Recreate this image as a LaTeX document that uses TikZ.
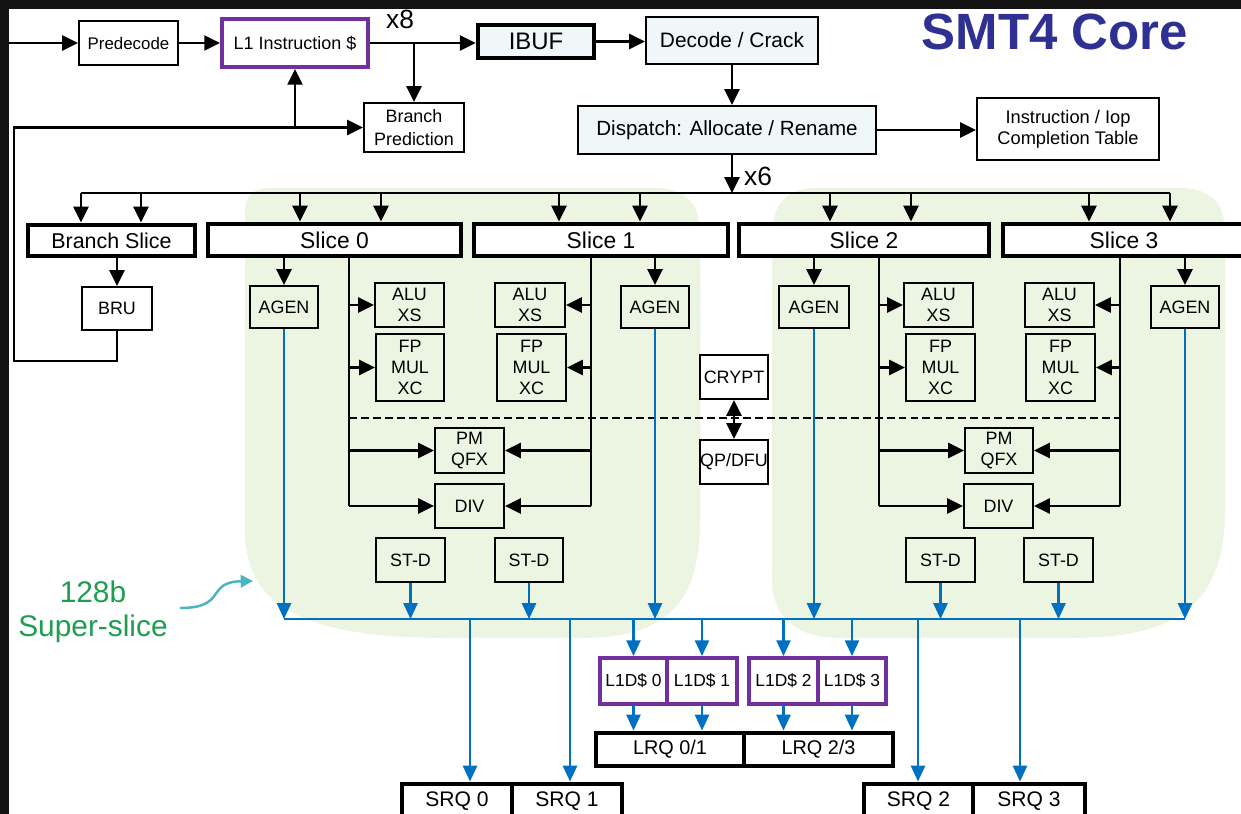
\documentclass[tikz,border=0pt]{standalone}
\usepackage{fontspec}
\setmainfont{Liberation Sans}
\usetikzlibrary{arrows.meta}
\definecolor{barc}{HTML}{121212}
\definecolor{ssgreen}{HTML}{EBF5E2}
\definecolor{lblue}{HTML}{EFF7F9}
\definecolor{purp}{HTML}{7030A0}
\definecolor{bl}{HTML}{0070C0}
\definecolor{titleblue}{HTML}{2E3192}
\definecolor{txtgreen}{HTML}{1E9E50}
\definecolor{tealarr}{HTML}{4BB5BF}
\tikzset{
  corners/.style n args={4}{minimum width={(#3-#1)*0.02cm}, minimum height={(#4-#2)*0.02cm}, at={({(#1+#3)/2},{(#2+#4)/2})}},
  bx/.style={draw=black, line width=1.1pt, inner sep=0pt, align=center, font=\fontsize{10.2}{12}\selectfont},
  tb/.style={bx, line width=2.8pt, fill=white},
  pb/.style={bx, draw=purp, line width=2.2pt, fill=white},
  ar/.style={line width=1.35pt, -{Triangle[length=9pt,width=8.5pt]}},
  ba/.style={draw=bl, line width=1.3pt, -{Triangle[length=9pt,width=8pt]}},
  ln/.style={line width=1.35pt},
  bln/.style={draw=bl, line width=1.3pt},
  dsh/.style={line width=1.4pt, dash pattern=on 4.5pt off 2.3pt},
}
\begin{document}
\begin{tikzpicture}[x=0.02cm,y=-0.02cm]
\useasboundingbox (0,0) rectangle (1241,814);
\clip (0,0) rectangle (1241,814);
\fill[white] (0,0) rectangle (1241,814);
\fill[barc] (0,0) rectangle (1241,9);
\fill[barc] (0,0) rectangle (9,814);
% super-slice backgrounds
\fill[ssgreen] (245,215) .. controls (245,195) and (252,188) .. (272,188)
  -- (655,188) .. controls (685,188) and (700,203) .. (700,233)
  -- (700,520) .. controls (700,610) and (660,638) .. (580,638)
  -- (450,638) .. controls (310,638) and (245,610) .. (245,530) -- cycle;
\fill[ssgreen] (772,235) .. controls (772,205) and (787,188) .. (815,188)
  -- (1180,188) .. controls (1210,188) and (1225,203) .. (1225,233)
  -- (1225,510) .. controls (1225,610) and (1170,638) .. (1070,638)
  -- (840,638) .. controls (795,638) and (772,615) .. (772,580) -- cycle;
% title and labels
\node[anchor=base, text=titleblue, font=\bfseries\fontsize{29}{30}\selectfont] (title) at (1055,50) {SMT4 Core};
\node[anchor=base, text=txtgreen, font=\fontsize{17}{19}\selectfont] (ssa) at (93,602) {128b};
\node[anchor=base, text=txtgreen, font=\fontsize{17}{19}\selectfont] (ssb) at (93,636) {Super-slice};
\node[anchor=base, font=\fontsize{15}{16}\selectfont] (x8) at (400,29) {x8};
\node[anchor=base, font=\fontsize{15}{16}\selectfont] (x6) at (758,186) {x6};
% front end
\node[bx, font=\fontsize{9.6}{11}\selectfont, corners={79}{21}{178}{65}] (pre) {Predecode};
\node[pb, corners={222}{19}{368}{67}] (l1) {L1 Instruction \$};
\node[bx, line width=2.5pt, fill=lblue, font=\fontsize{13.6}{15}\selectfont, corners={478}{25}{594}{58}] (ibuf) {IBUF};
\node[bx, fill=lblue, font=\fontsize{11.9}{13}\selectfont, corners={646}{17}{818}{64}] (dec) {Decode / Crack};
\node[bx, font=\fontsize{10.2}{13}\selectfont, corners={364}{103}{464}{152}] (bp) {Branch\\Prediction};
\node[bx, fill=lblue, font=\fontsize{11.7}{13}\selectfont, corners={578}{106}{876}{154}] (disp) {Dispatch: Allocate / Rename};
\node[bx, font=\fontsize{10.4}{12}\selectfont, corners={977}{98}{1159}{160}] (ict) {Instruction / Iop\\Completion Table};
% slices
\node[tb, font=\fontsize{12.2}{13}\selectfont, corners={28}{225}{195}{256}] (bs) {Branch Slice};
\node[tb, font=\fontsize{13}{14}\selectfont, corners={208}{224}{461}{256}] (s0) {Slice 0};
\node[tb, font=\fontsize{13}{14}\selectfont, corners={474}{224}{728}{256}] (s1) {Slice 1};
\node[tb, font=\fontsize{13}{14}\selectfont, corners={739}{224}{989}{256}] (s2) {Slice 2};
\node[tb, font=\fontsize{13}{14}\selectfont, corners={1003}{224}{1260}{256}] (s3) {\hspace*{-0.3cm}Slice 3};
% units
\node[bx, corners={82}{287}{152}{330}] (bru) {BRU};
\node[bx, corners={250}{286}{318}{328}] (agen0) {AGEN};
\node[bx, corners={621}{286}{689}{328}] (agen1) {AGEN};
\node[bx, corners={779}{286}{849}{328}] (agen2) {AGEN};
\node[bx, corners={1151}{286}{1219}{328}] (agen3) {AGEN};
\node[bx, corners={375}{283}{444}{327}] (alu0) {ALU\\XS};
\node[bx, corners={495}{283}{565}{327}] (alu1) {ALU\\XS};
\node[bx, corners={904}{283}{973}{327}] (alu2) {ALU\\XS};
\node[bx, corners={1025}{283}{1094}{327}] (alu3) {ALU\\XS};
\node[bx, corners={376}{334}{444}{401}] (fp0) {FP\\MUL\\XC};
\node[bx, corners={497}{334}{566}{401}] (fp1) {FP\\MUL\\XC};
\node[bx, corners={906}{334}{975}{401}] (fp2) {FP\\MUL\\XC};
\node[bx, corners={1026}{334}{1095}{401}] (fp3) {FP\\MUL\\XC};
\node[bx, fill=white, corners={700}{355}{768}{399}] (crypt) {CRYPT};
\node[bx, fill=white, corners={700}{440}{768}{484}] (qp) {QP/DFU};
\node[bx, corners={435}{428}{504}{473}] (pm0) {PM\\QFX};
\node[bx, corners={965}{428}{1033}{473}] (pm2) {PM\\QFX};
\node[bx, corners={435}{484}{504}{528}] (div0) {DIV};
\node[bx, corners={964}{484}{1033}{528}] (div2) {DIV};
\node[bx, corners={376}{538}{445}{582}] (st0) {ST-D};
\node[bx, corners={495}{538}{563}{582}] (st1) {ST-D};
\node[bx, corners={906}{538}{975}{582}] (st2) {ST-D};
\node[bx, corners={1024}{538}{1093}{582}] (st3) {ST-D};
% load/store
\node[pb, font=\fontsize{9.9}{11}\selectfont, corners={600}{658}{667}{704}] (l1d0) {L1D\$ 0};
\node[pb, font=\fontsize{9.9}{11}\selectfont, corners={667}{658}{737}{704}] (l1d1) {L1D\$ 1};
\node[pb, font=\fontsize{9.9}{11}\selectfont, corners={749}{658}{818}{704}] (l1d2) {L1D\$ 2};
\node[pb, font=\fontsize{9.9}{11}\selectfont, corners={818}{658}{886}{704}] (l1d3) {L1D\$ 3};
\node[tb, font=\fontsize{11.3}{12}\selectfont, corners={596}{733}{744}{766}] (lrq01) {LRQ 0/1};
\node[tb, font=\fontsize{11.3}{12}\selectfont, corners={744}{733}{893}{766}] (lrq23) {LRQ 2/3};
\node[tb, font=\fontsize{12}{13}\selectfont, corners={402}{784}{512}{818}] (srq0) {SRQ 0};
\node[tb, font=\fontsize{12}{13}\selectfont, corners={512}{784}{622}{818}] (srq1) {SRQ 1};
\node[tb, font=\fontsize{12}{13}\selectfont, corners={864}{784}{973}{818}] (srq2) {SRQ 2};
\node[tb, font=\fontsize{12}{13}\selectfont, corners={973}{784}{1085}{818}] (srq3) {SRQ 3};
% front-end connectors
\coordinate (in) at (9,43);
\draw[ar] (in) -- (pre.west);
\draw[ar] (pre.east) -- (pre.east -| l1.west);
\draw[ar] (l1.east) -- (l1.east -| ibuf.west);
\draw[ar] (l1.east -| bp.north) -- (bp.north);
\draw[ar] (ibuf.east) -- (ibuf.east -| dec.west);
\draw[ar] (dec.south) -- (dec.south |- disp.north);
\draw[ar] (disp.east) -- (disp.east -| ict.west);
\coordinate (bL) at (81,193);
\coordinate (bR) at (1170,193);
\draw[ar] (dec.south |- disp.south) -- (dec.south |- bL);
\draw[ln] (bL) -- (bR);
\foreach \x/\n in {81/bs,141/bs,300/s0,381/s0,559/s1,640/s1,830/s2,911/s2,1089/s3,1170/s3}{
  \coordinate (t) at (\x,193);
  \draw[ar] (t) -- (t |- \n.north);
}
% branch loop
\coordinate (lp) at (14,361);
\draw[ar] (bs.south -| bru.north) -- (bru.north);
\draw[ar] (bru.south) |- (lp) -- (lp |- bp.west) -- (bp.west);
\draw[ar] (l1.south |- bp.west) -- (l1.south);
% agen
\draw[ar] (s0.south -| agen0.north) -- (agen0.north);
\draw[ar] (s1.south -| agen1.north) -- (agen1.north);
\draw[ar] (s2.south -| agen2.north) -- (agen2.north);
\draw[ar] (s3.south -| agen3.north) -- (agen3.north);
% slice issue lines
\coordinate (v0) at (349,0);
\coordinate (v1) at (591,0);
\coordinate (v2) at (879,0);
\coordinate (v3) at (1120,0);
\draw[ln] (v0 |- s0.south) -- (v0 |- div0.west);
\draw[ln] (v1 |- s1.south) -- (v1 |- div0.east);
\draw[ln] (v2 |- s2.south) -- (v2 |- div2.west);
\draw[ln] (v3 |- s3.south) -- (v3 |- div2.east);
\foreach \b in {alu0,fp0,pm0,div0}{\draw[ar] (v0 |- \b.west) -- (\b.west);}
\foreach \b in {alu1,fp1,pm0,div0}{\draw[ar] (v1 |- \b.east) -- (\b.east);}
\foreach \b in {alu2,fp2,pm2,div2}{\draw[ar] (v2 |- \b.west) -- (\b.west);}
\foreach \b in {alu3,fp3,pm2,div2}{\draw[ar] (v3 |- \b.east) -- (\b.east);}
\coordinate (dl) at (349,418);
\coordinate (dr) at (1120,418);
\draw[dsh] (dl) -- (dr);
\draw[line width=1.35pt, {Triangle[length=9pt,width=8.5pt]}-{Triangle[length=9pt,width=8.5pt]}] (crypt.south) -- (qp.north);
% blue result bus
\coordinate (bus) at (0,619);
\draw[bln] (agen0.south |- bus) -- (agen3.south |- bus);
\foreach \n in {agen0,st0,st1,agen1,agen2,st2,st3,agen3}{\draw[ba] (\n.south) -- (\n.south |- bus);}
\foreach \x/\t in {470/srq0,570/srq1,918/srq2,1020/srq3}{
  \coordinate (d) at (\x,619);
  \draw[ba] (d) -- (d |- \t.north);
}
\foreach \n in {l1d0,l1d1,l1d2,l1d3}{\draw[ba] (\n.north |- bus) -- (\n.north);}
\draw[ba] (l1d0.south) -- (l1d0.south |- lrq01.north);
\draw[ba] (l1d1.south) -- (l1d1.south |- lrq01.north);
\draw[ba] (l1d2.south) -- (l1d2.south |- lrq23.north);
\draw[ba] (l1d3.south) -- (l1d3.south |- lrq23.north);
% super-slice pointer
\coordinate (ta) at (180,608);
\coordinate (tb) at (253,581);
\draw[draw=tealarr, line width=1.4pt, -{Triangle[length=7pt,width=7pt]}] (ta) .. controls (228,608) and (205,582) .. (tb);
\end{tikzpicture}
\end{document}
